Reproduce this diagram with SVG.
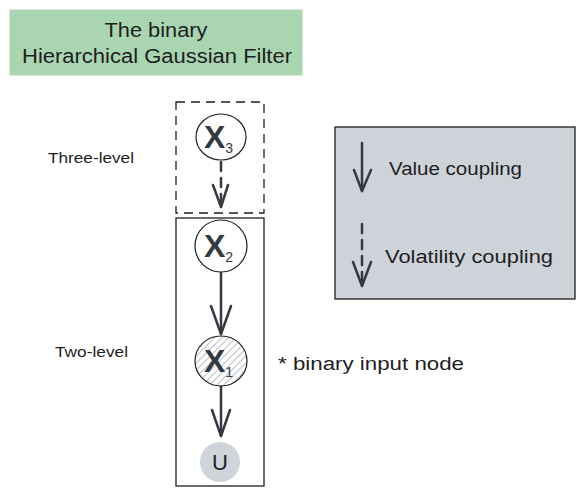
<svg xmlns="http://www.w3.org/2000/svg" width="584" height="493" viewBox="0 0 584 493">
<style>
.t{font-family:"Liberation Sans",Arial,sans-serif;fill:#1e1e1e}
.node{fill:#ffffff;stroke:#1e1e1e;stroke-width:1.2}
.edge{fill:none;stroke:#343a40;stroke-width:2.5;stroke-linecap:round;stroke-linejoin:round}
.dash{stroke-dasharray:9 7}
.xl{font-family:"Liberation Sans",Arial,sans-serif;fill:#343a40;font-size:32px;font-weight:bold}
.sub{font-size:14px;font-weight:normal}
</style>
<defs>
<pattern id="hatch" width="5" height="5" patternUnits="userSpaceOnUse" patternTransform="rotate(45)">
<rect width="5" height="5" fill="#ffffff"/>
<line x1="0" y1="0" x2="0" y2="5" stroke="#9aa1a8" stroke-width="1.4"/>
</pattern>
</defs>
<rect width="584" height="493" fill="#ffffff"/>
<g id="title">
<rect x="10" y="10" width="292" height="65" fill="#a9d5b1" stroke="#a9d5b1"/>
<text class="t" x="156" y="37" font-size="20" text-anchor="middle" textLength="103" lengthAdjust="spacingAndGlyphs">The binary</text>
<text class="t" x="157" y="63" font-size="20" text-anchor="middle" textLength="270" lengthAdjust="spacingAndGlyphs">Hierarchical Gaussian Filter</text>
</g>
<g id="three-level-box">
<rect x="176" y="102" width="88" height="111" fill="none" stroke="#1e1e1e" stroke-width="1.3" stroke-dasharray="9 6"/>
</g>
<g id="two-level-box">
<rect x="176" y="218" width="88" height="268" fill="none" stroke="#1e1e1e" stroke-width="1.3"/>
</g>
<g id="label-three">
<text class="t" x="48" y="163" font-size="14" textLength="86" lengthAdjust="spacingAndGlyphs" fill="#343a40">Three-level</text>
</g>
<g id="label-two">
<text class="t" x="55" y="357" font-size="14" textLength="73" lengthAdjust="spacingAndGlyphs">Two-level</text>
</g>
<g id="connectors">
<path class="edge dash" d="M221 162 L221 207"/>
<path class="edge" d="M213 185 L221 207 L228 185"/>
<path class="edge" d="M221 272 L221 334"/>
<path class="edge" d="M211 306 L221 334 L231 306"/>
<path class="edge" d="M221 386 L221 436"/>
<path class="edge" d="M212 410 L221 436 L230 410"/>
</g>
<g id="x3">
<ellipse class="node" cx="221" cy="137" rx="25" ry="23"/>
<text class="xl" x="204" y="148">X<tspan class="sub" dy="5">3</tspan></text>
</g>
<g id="x2">
<ellipse class="node" cx="221" cy="246" rx="26" ry="26"/>
<text class="xl" x="204" y="257">X<tspan class="sub" dy="5">2</tspan></text>
</g>
<g id="x1">
<ellipse cx="221" cy="361" rx="26" ry="25" fill="url(#hatch)" stroke="#1e1e1e" stroke-width="1.2"/>
<text class="xl" x="204" y="372">X<tspan class="sub" dy="5">1</tspan></text>
</g>
<g id="u">
<circle cx="220" cy="462" r="20" fill="#ced4da"/>
<text class="t" x="220" y="470" font-size="22" text-anchor="middle">U</text>
</g>
<g id="note">
<text class="t" x="278" y="370" font-size="18" textLength="186" lengthAdjust="spacingAndGlyphs">* binary input node</text>
</g>
<g id="legend">
<rect x="335" y="127" width="240" height="172" fill="#ced2d9" stroke="#1e1e1e" stroke-width="1.3"/>
<path class="edge" d="M362 143 L362 191"/>
<path class="edge" d="M354 170 L362 191 L371 170"/>
<text class="t" x="389" y="175" font-size="18" textLength="133" lengthAdjust="spacingAndGlyphs">Value coupling</text>
<path class="edge dash" d="M362 224 L362 285"/>
<path class="edge" d="M353 262 L362 286 L371 262"/>
<text class="t" x="385" y="263" font-size="18" textLength="168" lengthAdjust="spacingAndGlyphs">Volatility coupling</text>
</g>
</svg>
